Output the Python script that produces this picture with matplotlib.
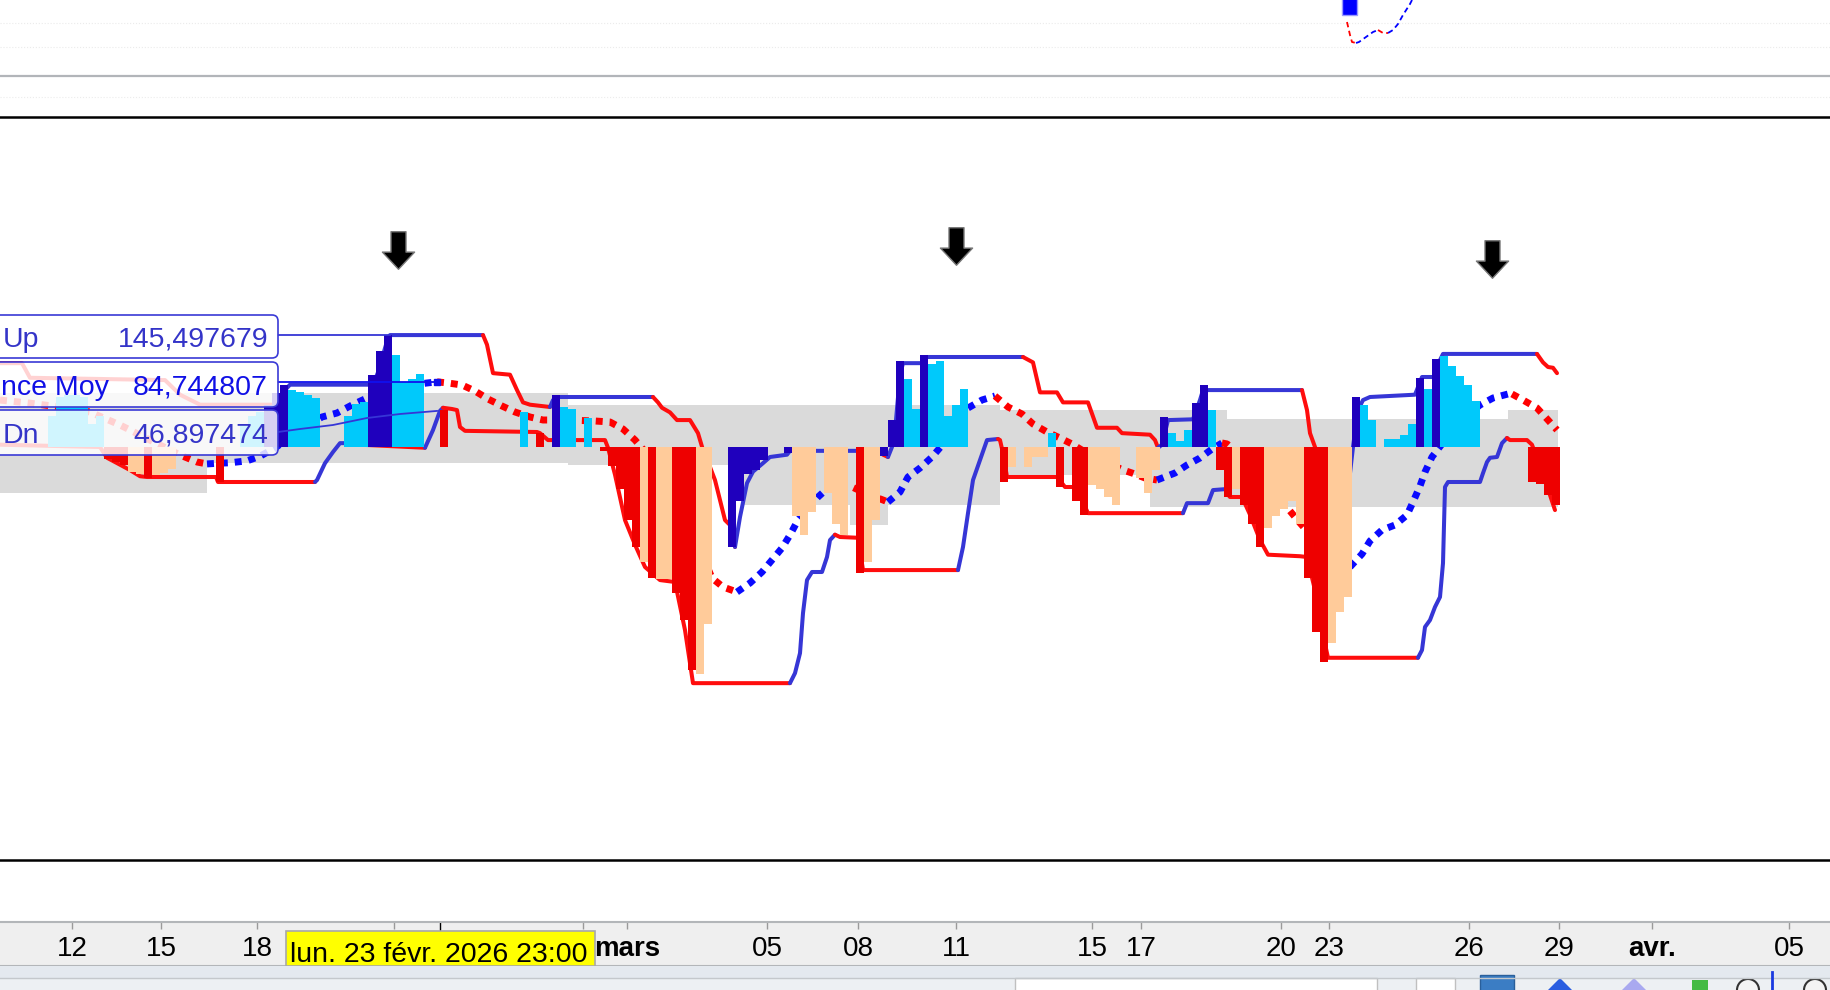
"""Momentum histogram with envelope lines, rebuilt from a trading-platform screenshot."""

import numpy as np
import matplotlib

matplotlib.use("Agg")
import matplotlib.pyplot as plt
from matplotlib.patches import FancyBboxPatch, Rectangle, Circle, Polygon
from matplotlib.path import Path

plt.rcParams["font.family"] = ["Liberation Sans", "DejaVu Sans"]

# ---- data (time index t, one unit ~ one session slot) ----
HIST_VALUES = [
    0, 0, 0, 0, 0, 0, 40, 65, 68, 68,
    65, 30, 40, -15, -20, -23, -32, -35, -40, -36,
    -34, -28, 0, 0, 0, 0, 0, -45, 0, 0,
    30, 40, 45, 55, 70, 81, 74, 72, 68, 64,
    0, 0, 0, 40, 56, 58, 94, 125, 145, 120,
    85, 88, 95, 0, 0, 48, 0, 0, 0, 0,
    0, 0, 0, 0, 0, 45, 0, 18, 0, 68,
    52, 50, 0, 38, 0, -5, -25, -55, -95, -130,
    -150, -170, -172, -172, -190, -225, -290, -295, -230, 0,
    0, -130, -70, -35, -30, -17, 0, 0, -8, -90,
    -115, -85, 0, -60, -100, -115, 0, -164, -150, -95,
    -12, 35, 112, 88, 50, 119, 108, 112, 40, 55,
    75, 0, 0, 0, 0, -45, -26, 0, -26, -13,
    -13, 18, -52, 0, -70, -88, -50, -55, -65, -75,
    0, 0, -40, -60, -30, 39, 18, 8, 22, 57,
    80, 48, -30, -65, -55, -75, -100, -130, -105, -90,
    -80, -70, -100, -170, -240, -280, -255, -215, -195, 65,
    55, 35, 0, 10, 10, 15, 30, 90, 75, 115,
    118, 105, 92, 80, 60, 0, 0, 0, 0, 0,
    0, -45, -48, -62, -75,
]
# B strong up, C weak up, R strong down, P weak down, . none
HIST_KIND = "".join([
    "......CCCC", "CCCRRRPPRP", "PP.....R..", "CCCBBBCCCC", "...CCCBBBC",
    "CCC..R....", ".....C.R.B", "CC.C.RRRRR", "PRPPRRRPP.", ".BBBBB..BP",
    "PP.PPP.RPP", "BBBCCBCCCC", "C....RP.PP", "PCR.RRPPPP", "..PPPBCCCB",
    "BCRRPRRRPP", "PPPRRRPPPB", "CC.CCCCBCB", "CCCCC.....", ".RRRR",
])

UPPER_T = [0.0, 2.2, 3.0, 16.5, 18.0, 20.0, 27.8, 28.5, 29.0, 37.3, 37.8, 38.6, 39.0,
           48.3, 48.7, 49.3, 51.0, 51.7, 52.3, 53.0, 55.0, 55.3, 55.8, 65.3, 65.8, 66.2,
           67.0, 67.7, 69.0, 69.8, 70.3, 71.0, 71.5, 72.0, 72.5, 73.2, 73.5, 74.0, 74.7,
           75.3, 76.3, 77.0, 78.7, 79.0, 88.0, 88.3, 88.8, 89.2, 89.6, 90.0, 90.3, 92.3,
           92.7, 102.3, 103.3, 104.0, 105.7, 106.3, 108.8, 109.7, 111.7, 112.2, 115.0,
           115.5, 115.8, 116.2, 116.8, 119.3, 120.0, 120.3, 130.2, 130.7, 131.0, 131.5,
           132.2, 133.2, 134.5, 134.8, 135.0, 135.3, 135.8, 136.3, 137.0, 141.5, 142.2,
           143.5, 144.0, 144.3, 153.7, 154.3, 154.8, 155.3, 155.7]
UPPER_V = [109, 109, 90, 87, 68, 55, 55, 74, 81, 81, 97, 133, 145.5,
           145.5, 133, 96, 94, 74, 58, 55, 52, 61, 65, 65, 58, 51,
           45, 35, 35, 18, -4, -26, -43, -69, -95, -104, -130, -91, -47,
           -32, -21, -13, -10, -5, -5, -10, -13, 0, 35, 94, 109, 109,
           117, 117, 110, 71, 71, 58, 58, 25, 25, 18, 16,
           9, -1, 3, 35, 36, 61, 74, 74, 48, 18, 0,
           -30, -58, -75, -77, -34, 0, 48, 61, 65, 68, 91,
           91, 113, 121, 121, 110, 104, 103, 96]

LOWER_T = [0.0, 10.0, 10.7, 12.0, 13.0, 14.0, 14.7, 21.6, 21.8, 31.5, 31.7, 32.5, 33.3,
           34.0, 34.7, 36.0, 42.5, 43.3, 44.0, 44.3, 45.2, 45.7, 46.0, 46.5, 53.7, 54.0,
           54.8, 60.5, 60.8, 61.5, 62.5, 63.5, 64.5, 66.0, 67.5, 68.5, 69.3, 79.0, 79.5,
           80.0, 80.3, 80.7, 81.2, 82.2, 82.7, 83.0, 83.5, 84.0, 85.8, 86.3, 95.8, 96.3,
           96.8, 97.3, 98.0, 98.7, 99.8, 100.0, 100.3, 100.7, 106.0, 106.2, 106.5, 107.7,
           108.2, 108.8, 118.3, 118.7, 120.8, 121.3, 122.7, 122.8, 123.0, 124.2, 125.0,
           126.0, 126.8, 130.0, 130.7, 131.5, 132.2, 132.8, 141.8, 142.2, 142.5, 143.0,
           143.5, 144.0, 144.3, 144.5, 144.8, 148.0, 148.3, 148.7, 149.0, 149.7, 150.2,
           150.7, 151.0, 152.7, 153.2, 154.5, 155.5]
LOWER_V = [3, 0, -14, -23, -30, -38, -39, -39, -45.5, -45.5, -43, -21, -6.5,
           5, 5, 3, -1, 22, 47, 51, 49.4, 48, 26, 21, 19.5, 18,
           9, 9, -1, -36, -95, -127, -156, -173, -175.5, -238, -307, -307, -294,
           -268, -216, -173, -162.5, -162.5, -143, -121, -114, -117, -118, -160, -160, -130,
           -86, -43, -17, 9, 10.4, 9, -8, -39, -39, -47, -52, -52,
           -69, -86, -86, -73, -73, -56, -54.6, -62, -65, -65, -88,
           -121, -140, -142, -143, -186, -238, -274, -274, -264, -234, -225,
           -208, -195, -151, -52, -45.5, -45.5, -34, -19.5, -14, -13, 5,
           11.7, 9, 9, 3, -43, -82]

MOY_T = [0.0, 3.0, 6.0, 9.0, 12.0, 15.0, 18.0, 19.7, 20.7, 22.0, 23.0, 24.7, 26.0,
         27.5, 29.0, 30.5, 32.2, 33.7, 35.2, 36.7, 38.2, 39.7, 41.2, 42.7, 43.7, 44.8,
         46.2, 47.5, 48.8, 50.2, 51.5, 53.0, 54.3, 56.0, 58.0, 59.5, 61.0, 62.3, 63.5,
         64.8, 66.0, 67.2, 68.5, 69.8, 71.2, 72.3, 73.7, 75.0, 76.2, 77.2, 78.2, 79.0,
         79.8, 80.8, 81.8, 82.9, 84.0, 85.2, 86.5, 87.5, 88.3, 88.8, 90.0, 90.8, 92.0,
         93.2, 94.4, 95.6, 96.8, 98.2, 99.5, 100.8, 102.2, 103.3, 104.7, 106.0, 107.2,
         108.5, 109.7, 111.0, 112.3, 113.2, 114.5, 115.7, 117.5, 118.7, 120.0, 121.2,
         122.2, 122.7, 124.0, 125.5, 127.0, 128.5, 130.0, 131.5, 133.0, 134.2, 135.0,
         136.2, 137.0, 138.2, 139.5, 140.7, 141.3, 142.0, 142.5, 143.2, 144.5, 145.8,
         147.0, 148.0, 149.3, 150.8, 151.2, 152.3, 153.7, 154.8, 155.7]
MOY_V = [61, 57, 52, 45.5, 28.6, 9, -10.4, -19.5, -22, -21, -20.5, -18, -12,
         -1.3, 13, 26, 39, 44.2, 54.6, 63.7, 71.5, 76.7, 80.6, 83.2, 84.7, 83.2,
         80.6, 72.8, 62.4, 53.3, 45.5, 39, 35.1, 35.1, 34.5, 33.8, 32.5, 23.4, 9.1,
         -10.4, -32.5, -58.5, -88.4, -127.4, -170.3, -182, -188.5, -176.8, -162.5, -146.9, -131.3, -114.4,
         -94.9, -79.3, -65, -52, -49.4, -52, -59.8, -65, -68.9, -71.5, -58.5, -39, -27.3,
         -13, 5.2, 24.7, 50.7, 61.1, 66.3, 52, 42.9, 29.9, 19.5, 11.7, 3.9,
         -6.5, -14.3, -22.1, -29.9, -33.8, -40.3, -42.9, -33.8, -23.4, -14.3, -2.6,
         5.2, 4, -10.4, -29.9, -52, -75.4, -98.8, -120.9, -140.4, -153.4, -156,
         -139.1, -122.2, -107.9, -101.4, -88.4, -71.5, -50.7, -32.5, -13, 9.1, 28.6,
         44.2, 54.6, 63.7, 68.9, 68.9, 61.1, 50.7, 35.1, 22.1]

DN_T = [27.8, 30.0, 33.3, 36.7, 40.0, 43.7]
DN_V = [19.5, 23.4, 28.6, 37.7, 42.9, 46.9]

BAND_START = [0.0, 20.7, 56.8, 74.3, 85.0, 88.8, 100.0, 115.0, 122.7, 150.8]
BAND_END = [20.7, 56.8, 74.3, 85.0, 88.8, 100.0, 115.0, 122.7, 150.8, 155.8]
BAND_TOP = [70, 70, 55, 55, 55, 55, 48, 48, 36, 48]
BAND_BOTTOM = [-60, -21, -23, -75, -101, -75, -36, -78, -78, -78]

ARROW_T = [39.8, 95.6, 149.2]
ARROW_V = [256, 261, 244]

# top price panel (small candle and dashed average)
CANDLE_T, CANDLE_LOW, CANDLE_HIGH = 134.2, 61, 80
TOP_T = [134.7, 135.0, 135.2, 135.6, 135.9, 136.6, 137.3, 137.8, 138.3, 138.8, 139.3,
         139.8, 140.3, 141.0, 141.2]
TOP_V = [54, 41, 34, 33, 34, 39, 44, 46, 43, 43, 46, 52, 61, 72, 76]

TICK_POS = [7.2, 16.1, 25.7, 39.4, 58.3, 62.7, 76.7, 85.8, 95.6, 109.2, 114.1, 128.1,
            132.9, 146.9, 155.9, 165.2, 178.9]
TICK_LABELS = ["12", "15", "18", "", "", "mars", "05", "08", "11", "15", "17", "20",
               "23", "26", "29", "avr.", "05"]
MONTHS = {"mars", "avr."}

CURSOR_T = 43.7
CURSOR_TEXT = "lun. 23 févr. 2026 23:00"
# the panel's left edge hides the start of each name; only the visible part is kept
LABEL_NAMES = ["Up", "nce Moy", "Dn"]
LABEL_VALUES = [145.497679, 84.744807, 46.897474]

# ---- styling ----
KIND_COLOR = {"B": "#1f00bd", "C": "#00c9fb", "R": "#ee0000", "P": "#ffcb9a"}
ENV_UP, ENV_DN = "#3636d6", "#ff0d0d"
DOT_UP, DOT_DN = "#0a0aff", "#ff0000"
XMAX = 183.0
BAR_W = 0.8
H = 990.0


def strip(top_px, bottom_px):
    return [0, 1 - bottom_px / H, 1, (bottom_px - top_px) / H]


def runs_by_direction(t, v, start_up=False):
    runs, up, cur = [], start_up, [(t[0], v[0])]
    for i in range(1, len(t)):
        d = v[i] - v[i - 1]
        new_up = up if d == 0 else d > 0
        if new_up != up and len(cur) > 1:
            runs.append((up, cur))
            cur = [(t[i - 1], v[i - 1])]
        up = new_up
        cur.append((t[i], v[i]))
    runs.append((up, cur))
    return runs


def draw_runs(ax, t, v, up_color, dn_color, **kw):
    for up, pts in runs_by_direction(t, v):
        xs, ys = zip(*pts)
        ax.plot(xs, ys, color=up_color if up else dn_color, **kw)


fig = plt.figure(figsize=(18.3, 9.9), dpi=100)
fig.patch.set_facecolor("white")

# top price panel
ax_top = fig.add_axes(strip(0, 76))
ax_top.set_xlim(0, XMAX)
ax_top.set_ylim(0, 76)
ax_top.axis("off")
for lvl in (53, 29):
    ax_top.axhline(lvl, color="#ebebeb", lw=0.8, ls=":")
ax_top.bar(CANDLE_T, CANDLE_HIGH - CANDLE_LOW, bottom=CANDLE_LOW, width=1.5,
           align="edge", color="#0000ff", edgecolor="#9a9aff", lw=1)
draw_runs(ax_top, TOP_T, TOP_V, "#0000ff", "#ff0000", lw=1.3, ls=(0, (3, 2)))

# main indicator panel
ax = fig.add_axes(strip(117, 860))
ax.set_xlim(0, XMAX)
ax.set_ylim(-536.9, 429)
ax.set_xticks([])
ax.set_yticks([])
for side in ("left", "right"):
    ax.spines[side].set_visible(False)
for side in ("top", "bottom"):
    ax.spines[side].set_linewidth(1.8)
    ax.spines[side].set_color("black")

for t0, t1, top, bot in zip(BAND_START, BAND_END, BAND_TOP, BAND_BOTTOM):
    ax.fill_between([t0, t1], [bot, bot], [top, top], color="#dadada", lw=0, zorder=1)

for up, pts in runs_by_direction(MOY_T, MOY_V):
    xs, ys = zip(*pts)
    ax.plot(xs, ys, color=DOT_UP if up else DOT_DN, lw=5, ls=(0, (1, 1.0)),
            dash_capstyle="butt", zorder=2)

draw_runs(ax, UPPER_T, UPPER_V, ENV_UP, ENV_DN, lw=2.9, zorder=3, solid_capstyle="round")
draw_runs(ax, LOWER_T, LOWER_V, ENV_UP, ENV_DN, lw=2.9, zorder=3, solid_capstyle="round")

pos = np.arange(len(HIST_VALUES)) * BAR_W
for kind in "BCRP":
    sel = [i for i, k in enumerate(HIST_KIND) if k == kind]
    ax.bar(pos[sel], [HIST_VALUES[i] for i in sel], width=BAR_W, align="edge",
           color=KIND_COLOR[kind], lw=0, zorder=4)

ax.plot(DN_T, DN_V, color=ENV_UP, lw=1.3, zorder=5)
ax.plot([27.8, 39.0], [LABEL_VALUES[0]] * 2, color=ENV_UP, lw=1.3, zorder=5)
ax.plot([27.8, CURSOR_T], [LABEL_VALUES[1]] * 2, color="#1010ee", lw=1.3, zorder=5)
ax.plot([CURSOR_T], [LABEL_VALUES[1]], marker="s", ms=5, color="#1010ee", zorder=5)

arrow = Path([(-7, 17.5), (7, 17.5), (7, -1.5), (15, -1.5), (0, -17.5), (-15, -1.5),
              (-7, -1.5), (-7, 17.5)],
             [Path.MOVETO] + [Path.LINETO] * 6 + [Path.CLOSEPOLY])
ax.plot(ARROW_T, ARROW_V, ls="none", marker=arrow, ms=27, mfc="black",
        mec="#777777", mew=1, zorder=6)

# date axis strip
ax_s = fig.add_axes(strip(922, 966))
ax_s.set_facecolor("#efefef")
ax_s.set_xlim(0, XMAX)
ax_s.set_ylim(0, 1)
ax_s.set_yticks([])
ax_s.set_xticks(TICK_POS)
ax_s.tick_params(axis="x", top=True, bottom=False, direction="in", length=5, width=1,
                 color="#9a9a9a", labelbottom=False, labeltop=False)
for side in ("left", "right"):
    ax_s.spines[side].set_visible(False)
for side in ("top", "bottom"):
    ax_s.spines[side].set_color("#b3b6b9")
    ax_s.spines[side].set_linewidth(1.5)
for p, lab in zip(TICK_POS, TICK_LABELS):
    ax_s.text(p, 0.22, lab, ha="center", va="baseline", fontsize=20,
              fontweight="bold" if lab in MONTHS else "normal", color="black")
ax_s.plot([CURSOR_T + 0.3] * 2, [1, 0.74], color="black", lw=1)
ax_s.add_patch(Rectangle((28.6, 0.0), 30.9, 0.8, fc="#ffff00", ec="#a8a8a8", lw=1.2, zorder=3))
ax_s.text(28.95, 0.1, CURSOR_TEXT, ha="left", va="baseline", fontsize=20.5,
          color="black", zorder=4)

# toolbar below the axis
ax_t = fig.add_axes(strip(966, 990))
ax_t.set_xlim(0, 1830)
ax_t.set_ylim(24, 0)
ax_t.axis("off")
ax_t.add_patch(Rectangle((0, 0), 1830, 12, fc="#e4e9ef", lw=0))
ax_t.add_patch(Rectangle((0, 12), 1830, 12, fc="#edf0f3", lw=0))
ax_t.axhline(12, color="#c4c8cc", lw=1)
ax_t.add_patch(Rectangle((1015, 12), 362, 13, fc="white", ec="#c0c0c0", lw=1))
ax_t.add_patch(Rectangle((1416, 12), 39, 13, fc="white", ec="#c0c0c0", lw=1))
ax_t.add_patch(Rectangle((1480, 9), 34, 16, fc="#3b7dc4", ec="#2a5f9a", lw=1))
ax_t.add_patch(Polygon([(1548, 24), (1560, 12), (1572, 24)], fc="#2a5de0", lw=0))
ax_t.add_patch(Polygon([(1622, 24), (1634, 12), (1646, 24)], fc="#a9a9f0", lw=0))
ax_t.add_patch(Rectangle((1692, 14), 16, 10, fc="#44bb44", lw=0))
ax_t.add_patch(Circle((1748, 24), 11, fc="#f4f4f4", ec="#333333", lw=1.5))
ax_t.plot([1772, 1772], [24, 6], color="#1a3ae0", lw=2)
ax_t.add_patch(Circle((1815, 24), 11, fc="#f4f4f4", ec="#333333", lw=1.5))

# overlay: panel separators and value labels
ov = fig.add_axes([0, 0, 1, 1])
ov.set_xlim(0, 1830)
ov.set_ylim(990, 0)
ov.axis("off")
ov.patch.set_alpha(0)
ov.axhline(76, color="#b2b5b9", lw=1.6)
ov.axhline(97, color="#ececec", lw=0.8, ls=":")

boxes = [(315, 43, 3, 347, "#3434c8"), (362, 45, 1, 395, "#1010e6"), (410, 45, 3, 443, "#3434c8")]
for (top, h, name_x, base, col), name, val in zip(boxes, LABEL_NAMES, LABEL_VALUES):
    ov.add_patch(FancyBboxPatch((-20, top), 298, h, boxstyle="round,pad=0,rounding_size=6",
                                fc=(1, 1, 1, 0.82), ec="#3a3ad6", lw=1.2))
    ov.text(name_x, base, name, ha="left", va="baseline", fontsize=20.5, color=col)
    ov.text(268, base, f"{val:.6f}".replace(".", ","), ha="right", va="baseline",
            fontsize=20.5, color=col)

fig.savefig("out.png", dpi=100)
